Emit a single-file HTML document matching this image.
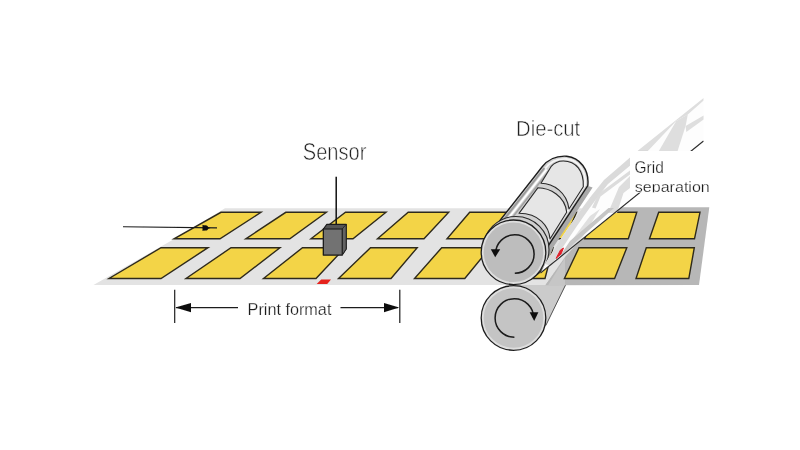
<!DOCTYPE html>
<html lang="en">
<head>
<meta charset="utf-8">
<title>Die-cut print format</title>
<style>
html,body{margin:0;padding:0;background:#fff;}
body{width:800px;height:450px;overflow:hidden;font-family:"Liberation Sans",Arial,sans-serif;}
svg{display:block;}
</style>
</head>
<body>
<svg width="800" height="450" viewBox="0 0 800 450">
<rect width="800" height="450" fill="#ffffff"/>
<defs><filter id="soft" x="0" y="0" width="800" height="450" filterUnits="userSpaceOnUse"><feGaussianBlur stdDeviation="0.45"/></filter></defs>
<g filter="url(#soft)" font-family="'Liberation Sans', Arial, sans-serif" fill="#2b2b2b">

<!-- lower roller body behind band -->
<polygon points="513,285 566,285 545.5,326 513,350" fill="#cbcbcb"/>
<line x1="545.8" y1="325.5" x2="566" y2="284" stroke="#555" stroke-width="1"/>

<!-- band -->
<polygon points="93.5,285 172,240.2 225,208.3 600,208.3 545,285" fill="#e3e3e3"/>
<polygon points="545,285.3 600,207.3 709.3,207.3 699,285" fill="#b7b7b7"/>
<polygon points="548,285.3 565,258 565,285.3" fill="#c6c6c6"/>

<!-- tiles -->
<polygon points="221,212.3 261,212.3 220,238.8 174,238.8" fill="#f3d447" stroke="#2e2a1c" stroke-width="1.4" stroke-linejoin="miter"/>
<polygon points="285.8,212.3 326.4,212.3 289.8,238.8 245.8,238.8" fill="#f3d447" stroke="#2e2a1c" stroke-width="1.4" stroke-linejoin="miter"/>
<polygon points="345.5,212.3 386,212.3 353,238.8 311,238.8" fill="#f3d447" stroke="#2e2a1c" stroke-width="1.4" stroke-linejoin="miter"/>
<polygon points="408.2,212.3 448.7,212.3 424,238.8 377.5,238.8" fill="#f3d447" stroke="#2e2a1c" stroke-width="1.4" stroke-linejoin="miter"/>
<polygon points="469.7,212.3 512,212.3 492,238.8 447,238.8" fill="#f3d447" stroke="#2e2a1c" stroke-width="1.4" stroke-linejoin="miter"/>
<polygon points="533,212.3 576.5,212.3 565.5,238.8 517,238.8" fill="#f3d447" stroke="#2e2a1c" stroke-width="1.4" stroke-linejoin="miter"/>
<polygon points="595,212.3 636.8,212.3 628.3,238.8 584.6,238.8" fill="#f3d447" stroke="#2e2a1c" stroke-width="1.4" stroke-linejoin="miter"/>
<polygon points="658.7,212.3 700,212.3 694.5,238.8 649.5,238.8" fill="#f3d447" stroke="#2e2a1c" stroke-width="1.4" stroke-linejoin="miter"/>
<polygon points="161,247.7 208,247.7 161,278.5 109,278.5" fill="#f3d447" stroke="#2e2a1c" stroke-width="1.4" stroke-linejoin="miter"/>
<polygon points="231,247.7 280,247.7 240,278.5 186,278.5" fill="#f3d447" stroke="#2e2a1c" stroke-width="1.4" stroke-linejoin="miter"/>
<polygon points="302.5,247.7 345,247.7 316,278.5 263.5,278.5" fill="#f3d447" stroke="#2e2a1c" stroke-width="1.4" stroke-linejoin="miter"/>
<polygon points="370.5,247.7 417.2,247.7 391,278.5 338.5,278.5" fill="#f3d447" stroke="#2e2a1c" stroke-width="1.4" stroke-linejoin="miter"/>
<polygon points="441.7,247.7 490,247.7 464.8,278.5 414.5,278.5" fill="#f3d447" stroke="#2e2a1c" stroke-width="1.4" stroke-linejoin="miter"/>
<polygon points="518,247.7 553,247.7 545,278.5 499,278.5" fill="#f3d447" stroke="#2e2a1c" stroke-width="1.4" stroke-linejoin="miter"/>
<polygon points="579,247.7 626.8,247.7 614.6,278.5 564.4,278.5" fill="#f3d447" stroke="#2e2a1c" stroke-width="1.4" stroke-linejoin="miter"/>
<polygon points="646.3,247.7 694.3,247.7 688.8,278.5 636,278.5" fill="#f3d447" stroke="#2e2a1c" stroke-width="1.4" stroke-linejoin="miter"/>

<!-- red print mark -->
<polygon points="316.7,284 327.2,284 331,279.6 321.2,279.6" fill="#e5211b"/>

<!-- upper roller body -->
<g>
<path d="M588,186 L592.6,187.5 L553.4,247 L546.5,264 L541,268 L548.4,245.5 Z" fill="#a9a9a9"/>
<path d="M487.8,236 L542.2,166.7 C548,159.5 557,155.6 566.7,156.2 C580,157.5 589.5,170 587.8,185.6 L548.4,245.5 L530,262 Z" fill="#d2d2d2" stroke="#1f1f1f" stroke-width="1.4" stroke-linejoin="round"/>
<!-- highlight stripes on left flank -->
<path d="M490.3,236.8 L544.3,168" stroke="#9a9a9a" stroke-width="2" fill="none"/>
<path d="M492.8,238 L546.6,169.4" stroke="#ffffff" stroke-width="1.8" fill="none"/>
<path d="M495.2,239.4 L548.8,171" stroke="#a2a2a2" stroke-width="1.6" fill="none"/>
<!-- inner highlight ring at back cap -->
<path d="M545.2,168.6 C550,162 558,158.6 566.5,159 C578,160 586.6,171 585,185 L547,242.5" stroke="#f6f6f6" stroke-width="1.8" fill="none"/>
<!-- back die plate -->
<path d="M541,183.3 L551,166.7 C554.5,162.5 559,161 563.3,161 C576,161 584,171 583.3,186.7 L569,209 C567,192 553,183.5 541,183.3 Z" fill="#e6e6e6" stroke="#2a2a2a" stroke-width="1.1" stroke-linejoin="round"/>
<!-- front die plate -->
<path d="M537.8,187.8 C550,188 565,196 566.7,212.2 L550,239 C549,226 539,213.5 519,213.3 Z" fill="#e6e6e6" stroke="#2a2a2a" stroke-width="1.1" stroke-linejoin="round"/>
<!-- plate end arc (front) -->
<circle cx="516" cy="249.5" r="33" fill="#cfcfcf" stroke="#2a2a2a" stroke-width="1.1"/>
</g>

<!-- upper roller face -->
<circle cx="513.5" cy="252.3" r="32.3" fill="#dedede" stroke="#1f1f1f" stroke-width="1.3"/>
<circle cx="513.5" cy="252.3" r="29.8" fill="#bdbdbd"/>
<path d="M495.5,254 A19.3,19.3 0 1 1 514.8,273.3" fill="none" stroke="#1a1a1a" stroke-width="1.5"/>
<polygon points="490.8,249.2 500.2,249.2 495.2,257.2" fill="#111"/>

<!-- lower roller face -->
<circle cx="513.5" cy="318" r="32.3" fill="#dedede" stroke="#1f1f1f" stroke-width="1.3"/>
<circle cx="513.5" cy="318" r="29.8" fill="#c4c4c4"/>
<path d="M514.4,337.3 A19.3,19.3 0 1 1 533.7,318" fill="none" stroke="#1a1a1a" stroke-width="1.5"/>
<polygon points="529.6,312.2 538.4,312.2 534.2,321" fill="#111"/>

<!-- waste grid (matrix) lifted off -->
<g>
<path d="M540.5,273 L703.5,141 L703.5,98 L604,180 Q575.5,214 545,264 Z" fill="#fdfdfd"/>
<!-- far rail -->
<path d="M545,264 Q575.5,214 604,180 L638.7,150 L648.8,150 L608,184 Q582,216 551,266 Z" fill="#dadada"/>
<!-- upper wedge + rungs -->
<polygon points="703.6,98 703.6,100.5 687.8,114.5 676.2,121 648.8,150 638.7,150" fill="#dedede"/>
<polygon points="676.2,121 687.8,114.5 685.6,126 677.6,151 658.9,151" fill="#dedede"/>
<polygon points="703.6,115.5 703.6,119.5 686.3,132 685.6,126" fill="#dedede"/>
<!-- lower strips -->
<path d="M630,170.5 L598.3,194 L592,207.5 L595.5,208.5 L600.5,196.5 L630,174.5 Z" fill="#dcdcdc"/>
<path d="M630,176 L619,187 L608,213 L617,213 L623.5,193 L630,188 Z" fill="#dddddd"/>
<path d="M572,240 L590,216 L600,209 L582,238 L566,256 Z" fill="#e0e0e0"/>
<path d="M556,262 L570,241 L608.5,208 L614,208 L574,243.5 Z" fill="#c6c6c6"/>
<!-- red mark on lifted grid -->
<path d="M556,258.5 L560.5,250 L563.5,248 L561,254 Z" fill="#e0202a" stroke="#e0202a" stroke-width="1"/>
<line x1="540.5" y1="273" x2="703.5" y2="141" stroke="#2a2a2a" stroke-width="1.1"/>
</g>
<rect x="703.8" y="90" width="20" height="62" fill="#ffffff"/>

<!-- Grid separation label (white box hides grid) -->
<rect x="630" y="151" width="90" height="41.6" fill="#ffffff"/>
<clipPath id="lab"><rect x="628" y="150" width="92" height="42.2"/></clipPath>
<g clip-path="url(#lab)">
<text x="634.6" y="172.7" font-size="16.8" textLength="29.2" lengthAdjust="spacingAndGlyphs" fill="#1c1c1c" stroke="#fff" stroke-width="0.25">Grid</text>
<text x="634.8" y="191.7" font-size="15.3" textLength="75" lengthAdjust="spacingAndGlyphs" fill="#1c1c1c" stroke="#fff" stroke-width="0.25">separation</text>
</g>

<!-- labels -->
<text x="302.8" y="160" font-size="23.2" textLength="63.6" lengthAdjust="spacingAndGlyphs" fill="#222" stroke="#fff" stroke-width="0.55">Sensor</text>
<text x="516" y="136.2" font-size="22" textLength="64.2" lengthAdjust="spacingAndGlyphs" fill="#222" stroke="#fff" stroke-width="0.55">Die-cut</text>
<text x="247.6" y="314.8" font-size="17" textLength="83.8" lengthAdjust="spacingAndGlyphs" fill="#1c1c1c" stroke="#fff" stroke-width="0.25">Print format</text>

<!-- sensor -->
<line x1="336.2" y1="176.8" x2="336.2" y2="225" stroke="#111" stroke-width="1.5"/>
<polygon points="323.4,229 326.8,224.4 346.2,224.4 346.2,249 342.2,255 323.4,255" fill="#555" stroke="#1c1c1c" stroke-width="1.2" stroke-linejoin="round"/>
<polygon points="342.2,229 346.2,224.4 346.2,249 342.2,255" fill="#636363" stroke="#1c1c1c" stroke-width="0.8"/>
<rect x="323.4" y="229" width="18.8" height="26" fill="#727272" stroke="#1c1c1c" stroke-width="1.1"/>

<!-- travel arrow -->
<line x1="123" y1="226.7" x2="217" y2="227.9" stroke="#1c1c1c" stroke-width="1.1"/>
<polygon points="202.5,224.8 210.5,227.9 202.5,231" fill="#111"/>
<ellipse cx="205.5" cy="227.9" rx="2.6" ry="2.6" fill="#111"/>

<!-- dimension -->
<g stroke="#1c1c1c" stroke-width="1.2">
<line x1="174.7" y1="289.7" x2="174.7" y2="323"/>
<line x1="399.8" y1="289.7" x2="399.8" y2="323"/>
<line x1="176" y1="307.6" x2="238" y2="307.6"/>
<line x1="340.5" y1="307.6" x2="398" y2="307.6"/>
</g>
<polygon points="175.3,307.6 191,303 191,312.2" fill="#111"/>
<polygon points="399.2,307.6 384,303 384,312.2" fill="#111"/>
</g>
</svg>
</body>
</html>
